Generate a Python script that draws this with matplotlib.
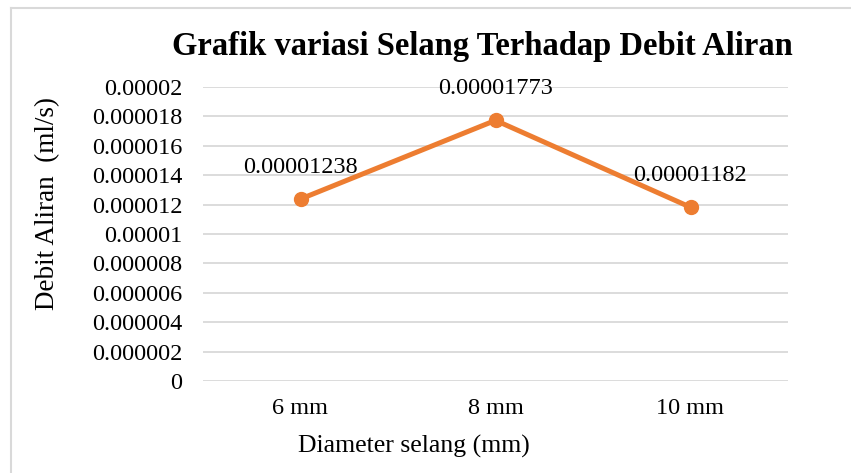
import numpy as np
import matplotlib.pyplot as plt
from matplotlib.lines import Line2D

plt.rcParams['font.family'] = ['Liberation Serif', 'DejaVu Serif']

categories = ['6 mm', '8 mm', '10 mm']
debit = [0.00001238, 0.00001773, 0.00001182]
labels = ['0.00001238', '0.00001773', '0.00001182']
yticks = [0, 0.000002, 0.000004, 0.000006, 0.000008, 0.00001,
          0.000012, 0.000014, 0.000016, 0.000018, 0.00002]
ytick_labels = ['0', '0.000002', '0.000004', '0.000006', '0.000008', '0.00001',
                '0.000012', '0.000014', '0.000016', '0.000018', '0.00002']

W, H = 851, 473
fig = plt.figure(figsize=(W / 100, H / 100), dpi=100)
# plot area in pixels: x 203..788, y 87..381
ax = fig.add_axes([203 / W, 1 - 381 / H, (788 - 203) / W, (381 - 87) / H])

x = np.arange(len(categories))
ax.plot(x, debit, color='#ED7D31', lw=3.6, marker='o', ms=10,
        solid_capstyle='round', zorder=3)
for xi, yi, t in zip(x, debit, labels):
    ax.annotate(t, (xi, yi), xytext=(0, 23), textcoords='offset points',
                ha='center', va='center', fontsize=17.5)

ax.set_xlim(-0.5, 2.5)
ax.set_ylim(0, 0.00002)
ax.set_yticks(yticks)
ax.set_yticklabels(ytick_labels, fontsize=17.5)
ax.set_xticks(x)
ax.set_xticklabels(categories, fontsize=17.5)
ax.tick_params(axis='y', length=0, pad=15)
ax.tick_params(axis='x', length=0, pad=12)
ax.grid(axis='y', color='#D9D9D9', lw=1.3)
ax.set_axisbelow(True)
for s in ax.spines.values():
    s.set_visible(False)

fig.text(482 / W, 1 - 46 / H, 'Grafik variasi Selang Terhadap Debit Aliran',
         ha='center', va='center', fontsize=23.5, fontweight='bold')
fig.text(48 / W, 1 - 204 / H, 'Debit Aliran  (ml/s)', rotation=90,
         ha='center', va='center', fontsize=19.5)
fig.text(414 / W, 1 - 446 / H, 'Diameter selang (mm)',
         ha='center', va='center', fontsize=18.5)

# chart border (top and left edges visible)
fig.add_artist(Line2D([11 / W, 11 / W], [0, 1 - 8 / H], transform=fig.transFigure,
                      color='#D9D9D9', lw=1.5))
fig.add_artist(Line2D([11 / W, 1], [1 - 8 / H, 1 - 8 / H], transform=fig.transFigure,
                      color='#D9D9D9', lw=1.5))

fig.savefig('out.png', dpi=100)
